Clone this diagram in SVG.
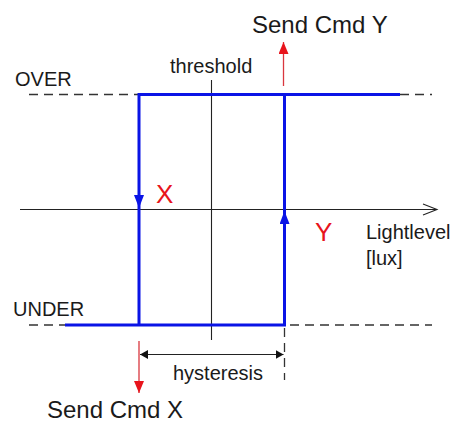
<svg xmlns="http://www.w3.org/2000/svg" width="451" height="423" viewBox="0 0 451 423">
<style>
text{font-family:"Liberation Sans",Arial,sans-serif;fill:#1a1a1a}
.lbl{font-size:20px}
.cmd{font-size:24px}
.red{fill:#e8141c;font-size:26px}
.dash{stroke:#333;stroke-width:1.3;stroke-dasharray:9 6;fill:none}
.blue{stroke:#0a14e6;stroke-width:3;fill:none}
.thin{stroke:#222;stroke-width:1.1;fill:none}
.redl{stroke:#d9363e;stroke-width:1.3;fill:none}
</style>
<defs>
<marker id="bh" viewBox="0 0 10 10" refX="10" refY="5" preserveAspectRatio="none" markerUnits="userSpaceOnUse" markerWidth="13" markerHeight="10" orient="auto"><path d="M0,0L10,5L0,10z" fill="#0a14e6"/></marker>
<marker id="rh" viewBox="0 0 10 10" refX="10" refY="5" preserveAspectRatio="none" markerUnits="userSpaceOnUse" markerWidth="12" markerHeight="10" orient="auto"><path d="M0,0L10,5L0,10z" fill="#e8141c"/></marker>
<marker id="kh" viewBox="0 0 10 10" refX="10" refY="5" preserveAspectRatio="none" markerUnits="userSpaceOnUse" markerWidth="8" markerHeight="9" orient="auto-start-reverse"><path d="M0,0L10,5L0,10z" fill="#111"/></marker>
</defs>
<g id="connectors">
<line class="dash" x1="29" y1="94.5" x2="139" y2="94.5"/>
<line class="dash" x1="400" y1="94.5" x2="432" y2="94.5"/>
<line class="dash" x1="29" y1="325" x2="65" y2="325"/>
<line class="dash" x1="290" y1="325" x2="432" y2="325"/>
<line class="dash" x1="284.5" y1="328" x2="284.5" y2="380"/>
<line class="thin" x1="211.5" y1="80" x2="211.5" y2="340"/>
<line class="thin" x1="20" y1="209.5" x2="437" y2="209.5"/>
<path class="thin" d="M423,204 L437,209.5 L423,215"/>
<path class="blue" d="M139,325 V94.5 H400"/>
<path class="blue" d="M65,325 H284.5 V94.5"/>
<line x1="139" y1="190" x2="139" y2="208" stroke="none" marker-end="url(#bh)"/>
<line x1="284.5" y1="230" x2="284.5" y2="211" stroke="none" marker-end="url(#bh)"/>
<line class="redl" x1="283.5" y1="86" x2="283.5" y2="42" marker-end="url(#rh)"/>
<line class="redl" x1="139" y1="341" x2="139" y2="393" marker-end="url(#rh)"/>
<line class="thin" x1="140" y1="354.5" x2="283.5" y2="354.5" marker-start="url(#kh)" marker-end="url(#kh)"/>
</g>
<g id="label-send-y"><text class="cmd" x="252" y="33">Send Cmd Y</text></g>
<g id="label-threshold"><text class="lbl" x="170" y="73">threshold</text></g>
<g id="label-over"><text class="lbl" x="15" y="86">OVER</text></g>
<g id="label-under"><text class="lbl" x="13" y="316">UNDER</text></g>
<g id="label-x"><text class="red" x="156" y="203">X</text></g>
<g id="label-y"><text class="red" x="315" y="241">Y</text></g>
<g id="label-lightlevel"><text class="lbl" x="366" y="239">Lightlevel</text><text class="lbl" x="366" y="265">[lux]</text></g>
<g id="label-hysteresis"><text class="lbl" x="173" y="380">hysteresis</text></g>
<g id="label-send-x"><text class="cmd" x="47" y="418">Send Cmd X</text></g>
</svg>
